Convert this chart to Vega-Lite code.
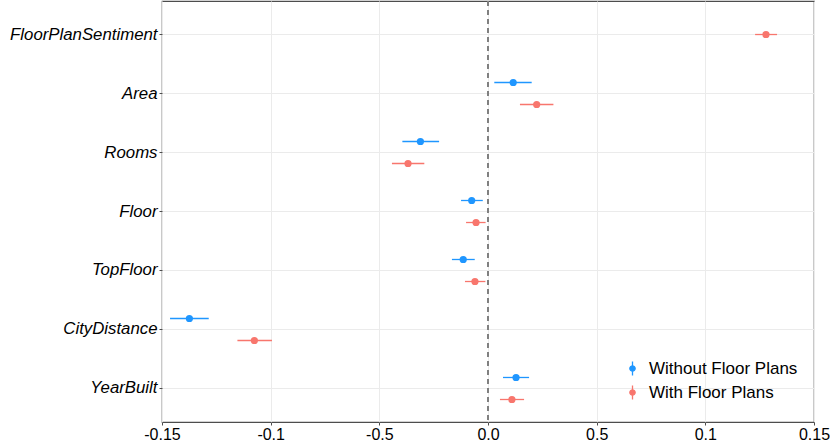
{
  "$schema": "https://vega.github.io/schema/vega-lite/v6.json",
  "width": 652,
  "height": 421,
  "autosize": "none",
  "padding": {"left": 162, "top": 1, "right": 16, "bottom": 19},
  "config": {
    "font": "Liberation Sans",
    "view": {"stroke": "#4d4d4d", "strokeWidth": 1.2},
    "axis": {"domain": false, "gridColor": "#ebebeb", "gridWidth": 1, "tickColor": "#4d4d4d", "tickSize": 3, "labelColor": "#000000", "labelFontSize": 16, "title": null}
  },
  "data": {
    "values": [
      {"variable": "FloorPlanSentiment", "model": "With Floor Plans", "estimate": 0.1279, "lo": 0.1229, "hi": 0.1330},
      {"variable": "Area", "model": "Without Floor Plans", "estimate": 0.0116, "lo": 0.0029, "hi": 0.0201},
      {"variable": "Area", "model": "With Floor Plans", "estimate": 0.0224, "lo": 0.0147, "hi": 0.0301},
      {"variable": "Rooms", "model": "Without Floor Plans", "estimate": -0.0311, "lo": -0.0394, "hi": -0.0225},
      {"variable": "Rooms", "model": "With Floor Plans", "estimate": -0.0368, "lo": -0.0442, "hi": -0.0293},
      {"variable": "Floor", "model": "Without Floor Plans", "estimate": -0.0075, "lo": -0.0124, "hi": -0.0024},
      {"variable": "Floor", "model": "With Floor Plans", "estimate": -0.0055, "lo": -0.0101, "hi": -0.0011},
      {"variable": "TopFloor", "model": "Without Floor Plans", "estimate": -0.0114, "lo": -0.0166, "hi": -0.0061},
      {"variable": "TopFloor", "model": "With Floor Plans", "estimate": -0.0060, "lo": -0.0106, "hi": -0.0012},
      {"variable": "CityDistance", "model": "Without Floor Plans", "estimate": -0.1374, "lo": -0.1463, "hi": -0.1285},
      {"variable": "CityDistance", "model": "With Floor Plans", "estimate": -0.1075, "lo": -0.1153, "hi": -0.0994},
      {"variable": "YearBuilt", "model": "Without Floor Plans", "estimate": 0.0129, "lo": 0.0069, "hi": 0.0189},
      {"variable": "YearBuilt", "model": "With Floor Plans", "estimate": 0.0110, "lo": 0.0055, "hi": 0.0166}
    ]
  },
  "encoding": {
    "y": {
      "field": "variable",
      "type": "nominal",
      "sort": ["FloorPlanSentiment", "Area", "Rooms", "Floor", "TopFloor", "CityDistance", "YearBuilt"],
      "scale": {"type": "band", "paddingInner": 0, "paddingOuter": 0.068},
      "axis": {"grid": true, "bandPosition": 0.5, "labelFontStyle": "italic", "labelFontSize": 16.8, "labelPadding": 2}
    },
    "x": {
      "field": "estimate",
      "type": "quantitative",
      "scale": {"domain": [-0.15, 0.15], "nice": false, "zero": false},
      "axis": {
        "values": [-0.15, -0.1, -0.05, 0, 0.05, 0.1, 0.15],
        "labelPadding": 1,
        "labelFlush": false,
        "labelExpr": "datum.value < -0.12 ? '-0.15' : datum.value < -0.07 ? '-0.1' : datum.value < -0.02 ? '-0.5' : datum.value < 0.02 ? '0.0' : datum.value < 0.07 ? '0.5' : datum.value < 0.12 ? '0.1' : '0.15'"
      }
    },
    "color": {
      "field": "model",
      "type": "nominal",
      "scale": {"domain": ["Without Floor Plans", "With Floor Plans"], "range": ["#1f96ff", "#f8766d"]},
      "legend": {
        "title": null,
        "orient": "none",
        "legendX": 462,
        "legendY": 359,
        "padding": 0,
        "labelFontSize": 17,
        "labelColor": "#000000",
        "labelOffset": 8,
        "rowPadding": 3,
        "symbolSize": 196,
        "symbolType": "M0,-1L0,1M0.38,0A0.38,0.38,0,1,1,-0.38,0A0.38,0.38,0,1,1,0.38,0Z",
        "symbolStrokeWidth": 1.3,
        "encode": {"symbols": {"update": {"stroke": {"scale": "color", "field": "value"}, "fill": {"scale": "color", "field": "value"}, "opacity": {"value": 1}}}}
      }
    }
  },
  "layer": [
    {
      "mark": {"type": "rule", "strokeDash": [5, 4], "color": "#808080", "strokeWidth": 1.1},
      "encoding": {"x": {"datum": 0}, "y": null, "color": null}
    },
    {
      "transform": [{"filter": "datum.variable != 'FloorPlanSentiment'"}],
      "mark": {"type": "rule", "strokeWidth": 1.3},
      "encoding": {
        "x": {"field": "lo", "type": "quantitative"},
        "x2": {"field": "hi"},
        "yOffset": {"field": "model", "type": "nominal", "sort": ["Without Floor Plans", "With Floor Plans"], "scale": {"paddingInner": 0, "paddingOuter": 0.34}}
      }
    },
    {
      "transform": [{"filter": "datum.variable != 'FloorPlanSentiment'"}],
      "mark": {"type": "point", "filled": true, "size": 52, "opacity": 1},
      "encoding": {
        "yOffset": {"field": "model", "type": "nominal", "sort": ["Without Floor Plans", "With Floor Plans"], "scale": {"paddingInner": 0, "paddingOuter": 0.34}}
      }
    },
    {
      "transform": [{"filter": "datum.variable == 'FloorPlanSentiment'"}],
      "mark": {"type": "rule", "strokeWidth": 1.3},
      "encoding": {
        "x": {"field": "lo", "type": "quantitative"},
        "x2": {"field": "hi"}
      }
    },
    {
      "transform": [{"filter": "datum.variable == 'FloorPlanSentiment'"}],
      "mark": {"type": "point", "filled": true, "size": 52, "opacity": 1}
    }
  ]
}
